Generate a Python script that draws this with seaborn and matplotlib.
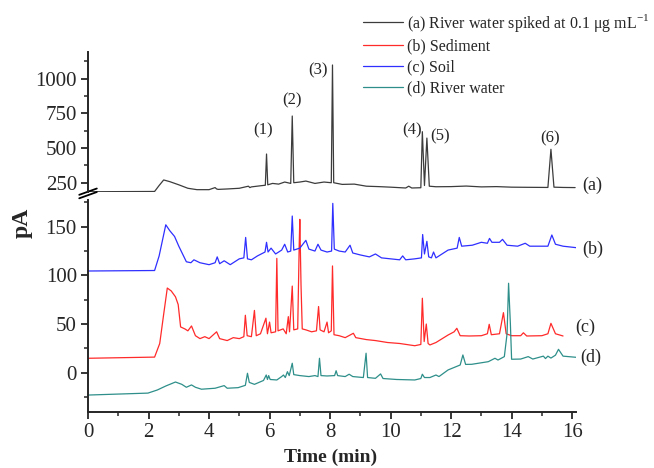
import matplotlib
matplotlib.use('Agg')
import matplotlib.pyplot as plt
import seaborn as sns
import pandas as pd
from matplotlib.ticker import MultipleLocator

# Chromatogram traces: (time in min, signal in pA)
trace_a = [(0, 185), (2.2, 187), (2.35, 230), (2.5, 270), (2.7, 258), (3.0, 235), (3.3, 210),
           (3.6, 200), (4.0, 200), (4.2, 215), (4.25, 205), (4.3, 202), (4.6, 205), (5.0, 210),
           (5.3, 225), (5.35, 215), (5.4, 220), (5.7, 228), (5.86, 232), (5.9, 457), (5.94, 235),
           (6.1, 245), (6.3, 240), (6.5, 255), (6.7, 245), (6.75, 731), (6.8, 250), (7.0, 255),
           (7.2, 262), (7.5, 245), (7.8, 255), (8.04, 250), (8.08, 1099), (8.12, 250), (8.4, 238),
           (8.8, 240), (9.2, 225), (9.6, 222), (10.0, 218), (10.5, 212), (10.6, 225), (10.7, 212),
           (11.0, 214), (11.05, 618), (11.12, 230), (11.2, 572), (11.28, 225), (11.5, 221),
           (12.0, 222), (12.5, 226), (13.0, 220), (13.5, 222), (14.0, 218), (14.5, 217),
           (15.2, 216), (15.3, 491), (15.4, 218), (15.7, 216), (16.1, 215)]

trace_b = [(0, 14.8), (2.2, 16), (2.37, 30), (2.5, 60), (2.62, 87), (2.75, 84), (2.89, 78),
           (2.98, 70), (3.06, 47), (3.2, 45), (3.3, 43), (3.42, 48), (3.55, 38), (3.7, 35),
           (3.86, 37), (4.0, 35), (4.25, 42), (4.35, 35), (4.6, 33), (4.8, 36), (5.0, 35),
           (5.15, 37), (5.2, 59), (5.26, 38), (5.4, 37), (5.5, 64), (5.56, 38), (5.7, 40),
           (5.88, 56), (5.93, 40), (6.0, 52), (6.05, 41), (6.2, 42), (6.24, 117.5), (6.28, 43),
           (6.45, 45), (6.55, 40), (6.62, 57.6), (6.66, 42), (6.75, 89), (6.8, 44), (6.93, 45),
           (6.98, 131), (7.0, 157.6), (7.04, 90), (7.08, 45), (7.2, 44), (7.39, 42), (7.55, 43),
           (7.62, 68), (7.67, 44), (7.8, 42), (7.9, 52), (7.95, 41), (8.04, 43), (8.08, 109.7),
           (8.13, 39), (8.3, 38), (8.5, 36), (8.77, 40.5), (8.85, 36), (9.2, 34), (9.5, 33),
           (9.9, 31), (10.3, 30), (10.8, 27.7), (11.0, 29), (11.05, 76.5), (11.11, 32),
           (11.18, 50), (11.24, 30), (11.3, 28.5), (11.5, 31), (11.9, 38.7), (12.1, 42),
           (12.19, 45.6), (12.3, 38), (12.6, 37.7), (13.0, 38), (13.2, 40), (13.26, 49.7),
           (13.33, 39), (13.6, 40), (13.73, 61.7), (13.82, 40), (14.0, 38), (14.3, 38),
           (14.39, 41), (14.5, 37.7), (15.0, 38), (15.2, 40), (15.3, 50.7), (15.45, 40),
           (15.7, 37.7)]

trace_c = [(0, 104.5), (2.2, 105), (2.35, 120), (2.57, 152), (2.7, 146), (2.86, 140), (3.0, 130),
           (3.25, 114), (3.4, 113), (3.5, 116), (3.7, 113), (4.0, 111), (4.2, 113), (4.27, 119),
           (4.35, 112), (4.5, 115), (4.7, 111), (5.0, 117), (5.15, 118), (5.21, 139), (5.27, 117),
           (5.4, 116), (5.6, 120), (5.85, 124), (5.9, 134), (5.95, 124), (6.05, 128), (6.2, 122),
           (6.4, 126), (6.5, 132), (6.6, 124), (6.7, 125), (6.75, 161), (6.8, 126), (7.0, 128),
           (7.2, 136), (7.3, 127), (7.5, 125), (7.6, 132), (7.7, 126), (7.9, 124), (8.05, 125),
           (8.09, 174), (8.14, 127), (8.3, 125), (8.5, 124), (8.66, 131), (8.75, 123), (9.0, 121),
           (9.3, 119), (9.5, 122), (9.7, 118), (10.0, 117), (10.3, 116), (10.4, 120), (10.5, 116),
           (10.8, 117), (11.02, 118), (11.06, 142), (11.12, 122), (11.2, 135), (11.26, 119),
           (11.35, 118), (11.42, 124), (11.5, 118), (11.9, 126), (12.2, 128), (12.27, 139),
           (12.35, 130), (12.7, 131), (13.0, 134), (13.2, 133), (13.27, 138), (13.35, 134),
           (13.6, 134), (13.7, 137), (13.85, 131), (14.2, 130), (14.45, 133), (14.6, 130),
           (15.0, 130), (15.2, 130), (15.33, 141.5), (15.45, 132), (15.7, 130), (16.13, 128.5)]

trace_d = [(0, -23), (1.98, -21), (2.29, -17.8), (2.57, -13.7), (2.89, -9.6), (3.1, -12),
           (3.25, -15), (3.42, -12.6), (3.55, -15), (3.75, -17), (4.2, -16), (4.5, -13.3),
           (4.6, -16), (4.96, -15.4), (5.2, -13), (5.27, -0.6), (5.33, -10), (5.5, -12),
           (5.8, -8), (5.89, -2.4), (5.93, -7), (5.97, -3), (6.02, -7), (6.24, -7.5), (6.4, -4),
           (6.46, -2.4), (6.52, -5), (6.59, 1), (6.65, -3), (6.75, 9.7), (6.8, -2), (7.0, -3),
           (7.3, -4), (7.5, -3), (7.6, -4), (7.65, 14.8), (7.7, -3), (7.9, -3.4), (8.15, -3),
           (8.2, 2), (8.25, -3), (8.5, -4), (8.63, -1.6), (8.75, -4), (9.1, -5), (9.19, 20),
           (9.24, -5), (9.5, -5.8), (9.67, -1.3), (9.75, -6), (10.2, -7), (10.8, -7.5),
           (11.0, -6), (11.05, -1.6), (11.12, -5), (11.3, -5), (11.5, -2.4), (11.6, -4),
           (11.9, 2.8), (12.3, 7.9), (12.39, 18.2), (12.48, 8.5), (12.68, 8.6), (13.23, 11.3),
           (13.45, 14.8), (13.55, 13), (13.76, 16.5), (13.85, 40), (13.9, 91.9), (13.96, 50),
           (14.0, 13.8), (14.3, 14), (14.55, 16.5), (14.7, 14), (15.05, 17), (15.12, 14.5),
           (15.2, 17), (15.3, 15), (15.45, 18), (15.55, 24), (15.7, 17), (16.13, 15.8)]

legend_labels = [r'(a) River water spiked at 0.1 $\mathrm{\mu}$g mL$^{\mathbf{-1}}$',
                 '(b) Sediment', '(c) Soil', '(d) River water']
colors = ['#3c3c3c', '#ff2a2a', '#2f2fff', '#2e8f8a']

# peak numbers on the spiked trace: (label, time, pA)
peak_labels = [('(1)', 5.8, 630), ('(2)', 6.73, 841), ('(3)', 7.61, 1062),
               ('(4)', 10.7, 630), ('(5)', 11.64, 582), ('(6)', 15.27, 570)]

sns.set_style('ticks')
plt.rcParams['font.family'] = 'Liberation Serif'
plt.rcParams['mathtext.fontset'] = 'custom'
plt.rcParams['mathtext.rm'] = 'Liberation Serif'
plt.rcParams['mathtext.bf'] = 'Liberation Serif'

fig = plt.figure(figsize=(6.54, 4.68), dpi=100)
ax_top = fig.add_axes([0.1346, 0.5897, 0.7462, 0.299])
ax_bot = fig.add_axes([0.1346, 0.1197, 0.7462, 0.453])

def to_df(trace):
    return pd.DataFrame(trace, columns=['t', 'pA'])

sns.lineplot(data=to_df(trace_a), x='t', y='pA', ax=ax_top, color=colors[0], lw=0.9,
             estimator=None, label=legend_labels[0], legend=False)
sns.lineplot(data=to_df(trace_b), x='t', y='pA', ax=ax_bot, color=colors[1], lw=0.9,
             estimator=None, label=legend_labels[1], legend=False)
sns.lineplot(data=to_df(trace_c), x='t', y='pA', ax=ax_bot, color=colors[2], lw=0.9,
             estimator=None, label=legend_labels[2], legend=False)
sns.lineplot(data=to_df(trace_d), x='t', y='pA', ax=ax_bot, color=colors[3], lw=0.9,
             estimator=None, label=legend_labels[3], legend=False)

for ax in (ax_top, ax_bot):
    ax.set_xlim(0, 16.13)
    ax.set_xlabel('')
    ax.set_ylabel('')
    ax.spines['right'].set_visible(False)
    ax.spines['top'].set_visible(False)
    ax.spines['left'].set_linewidth(1.4)
    ax.tick_params(axis='y', which='major', direction='out', length=5, width=1.3,
                   labelsize=15, pad=3)
    ax.tick_params(axis='y', which='minor', direction='out', length=3, width=1.1)

ax_top.set_ylim(183, 1192)
ax_top.spines['bottom'].set_visible(False)
ax_top.set_yticks([250, 500, 750, 1000])
ax_top.yaxis.set_minor_locator(MultipleLocator(125))
ax_top.tick_params(axis='x', which='both', bottom=False, labelbottom=False)

ax_bot.set_ylim(-40.4, 177.5)
ax_bot.set_yticks([0, 50, 100, 150])
ax_bot.yaxis.set_minor_locator(MultipleLocator(25))
ax_bot.set_xticks(range(0, 17, 2))
ax_bot.xaxis.set_minor_locator(MultipleLocator(1))
ax_bot.spines['bottom'].set_linewidth(1.4)
ax_bot.tick_params(axis='x', which='major', direction='out', length=5, width=1.3,
                   labelsize=15, pad=3)
ax_bot.tick_params(axis='x', which='minor', direction='out', length=3, width=1.1)

# break marks on the left spine
for y in (0.0, -0.025):
    ax_top.plot([-0.018, 0.018], [y - 0.02, y + 0.025], transform=ax_top.transAxes,
                color='black', lw=1.3, clip_on=False)

for text, t, v in peak_labels:
    ax_top.text(t, v, text, ha='center', va='center', fontsize=12)

ax_top.text(16.33, 233, '(a)', ha='left', va='center', fontsize=13, clip_on=False)
ax_bot.text(16.33, 127, '(b)', ha='left', va='center', fontsize=13, clip_on=False)
ax_bot.text(16.12, 47, '(c)', ha='left', va='center', fontsize=13, clip_on=False)
ax_bot.text(16.26, 16, '(d)', ha='left', va='center', fontsize=13, clip_on=False)

handles = ax_top.get_lines()[:1] + ax_bot.get_lines()[:3]
fig.legend(handles, legend_labels, loc='upper left', bbox_to_anchor=(363 / 654, 1 - 12 / 468),
           frameon=False, fontsize=11.5, handlelength=2.5, handletextpad=0.25,
           labelspacing=0.3, borderpad=0, borderaxespad=0)

fig.text(0.034, 0.523, 'pA', rotation=90, ha='center', va='center', fontsize=17,
         fontweight='bold')
fig.text(0.506, 0.022, 'Time (min)', ha='center', va='center', fontsize=14, fontweight='bold')

fig.savefig('out.png', dpi=100)
